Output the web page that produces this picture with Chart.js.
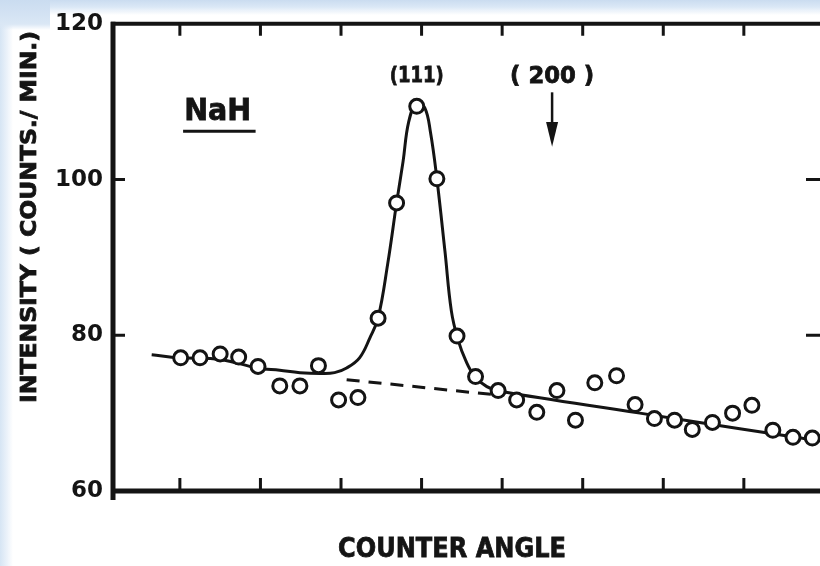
<!DOCTYPE html>
<html>
<head>
<meta charset="utf-8">
<title>NaH counter angle scan</title>
<script src="https://cdn.jsdelivr.net/npm/chart.js@4.4.1/dist/chart.umd.min.js"></script>
<style>
  html, body { margin: 0; padding: 0; overflow: hidden; }
  body {
    width: 820px; height: 566px;
    background:
      linear-gradient(to bottom, #cadcf0 0px, #dbe8f6 7px, rgba(255,255,255,0) 15px),
      linear-gradient(to right, #d6e5f4 0px, #ebf2fa 7px, rgba(255,255,255,0) 13px),
      #ffffff;
  }
  #corner {
    position: absolute; left: 0; top: 0; width: 50px; height: 30px;
    background: linear-gradient(to bottom, #cadcf0, #dae7f5 80%, rgba(218,231,245,0));
  }
  #wrap { position: absolute; left: 0; top: 0; width: 824px; height: 566px; }
</style>
</head>
<body>
<div id="corner"></div>
<div id="wrap"><canvas id="chart" width="824" height="566"></canvas></div>
<script>
// measured points (open circles)
const angle = [1.01, 1.25, 1.50, 1.73, 1.97, 2.24, 2.49, 2.72, 2.97, 3.21, 3.46, 3.69, 3.94, 4.19, 4.44, 4.67, 4.95,
  5.18, 5.43, 5.68, 5.91, 6.15, 6.42, 6.65, 6.89, 7.14, 7.36, 7.61, 7.86, 8.10, 8.36, 8.61, 8.85];
const counts = [77.1, 77.1, 77.6, 77.2, 76.0, 73.5, 73.5, 76.1, 71.7, 72.0, 82.2, 97.0, 109.4, 100.1, 79.9, 74.7, 72.9,
  71.7, 70.1, 72.9, 69.1, 73.9, 74.8, 71.1, 69.3, 69.1, 67.9, 68.8, 70.0, 71.0, 67.8, 66.9, 66.8];

// hand drawn solid curve through the peak
const fitAngle = [0.65, 1.00, 1.50, 1.96, 2.24, 2.49, 2.74, 2.92, 3.07, 3.23, 3.36, 3.46, 3.58, 3.69, 3.77, 3.84, 3.94,
  4.04, 4.11, 4.19, 4.29, 4.37, 4.45, 4.55, 4.66, 4.81, 4.97, 6.71, 7.95, 8.97];
const fitCounts = [77.5, 77.1, 76.9, 75.8, 75.5, 75.2, 75.1, 75.2, 75.8, 77.1, 79.7, 82.2, 89.2, 97.0, 102.3, 107.4, 109.9,
  109.2, 106.1, 100.1, 90.8, 83.1, 79.5, 76.7, 74.7, 73.4, 72.8, 70.0, 68.0, 66.4];

// dashed background under the peak
const baseAngle = [3.07, 4.87];
const baseCounts = [74.3, 72.4];

// axis ticks
const xTicks = [1, 2, 3, 4, 5, 6, 7, 8];
const yTicks = [60, 80, 100, 120];

const toXY = (xs, ys) => xs.map((x, i) => ({ x: x, y: ys[i] }));

const FONT = '"DejaVu Sans", sans-serif';
const INK = '#141414';

// draw text squeezed/stretched to a given width
function fitText(ctx, str, cx, cy, size, width, rot) {
  ctx.save();
  ctx.font = 'bold ' + size + 'px ' + FONT;
  const w = ctx.measureText(str).width;
  ctx.translate(cx, cy);
  if (rot) ctx.rotate(rot);
  ctx.scale(width / w, 1);
  ctx.textAlign = 'center';
  ctx.textBaseline = 'middle';
  ctx.fillStyle = INK;
  ctx.strokeStyle = INK;
  ctx.lineWidth = 0.8;
  ctx.fillText(str, 0, 0);
  ctx.strokeText(str, 0, 0);
  ctx.restore();
}

const framePlugin = {
  id: 'frame',
  afterDatasetsDraw(chart) {
    const ctx = chart.ctx;
    const { left, right, top, bottom } = chart.chartArea;
    const xs = chart.scales.x, ys = chart.scales.y;
    ctx.save();
    ctx.strokeStyle = INK;
    ctx.lineCap = 'butt';

    // box
    ctx.lineWidth = 5;
    ctx.beginPath();
    ctx.moveTo(left, top - 2); ctx.lineTo(left, bottom + 9);
    ctx.moveTo(left - 2, bottom); ctx.lineTo(right, bottom);
    ctx.stroke();
    ctx.lineWidth = 4;
    ctx.beginPath();
    ctx.moveTo(left - 2, top); ctx.lineTo(right, top);
    ctx.moveTo(right, top); ctx.lineTo(right, bottom);
    ctx.stroke();

    // inward ticks
    ctx.lineWidth = 3;
    ctx.beginPath();
    xTicks.forEach(v => {
      const px = xs.getPixelForValue(v);
      ctx.moveTo(px, bottom); ctx.lineTo(px, bottom - 13);
      ctx.moveTo(px, top); ctx.lineTo(px, top + 12);
    });
    yTicks.slice(1, -1).forEach(v => {
      const py = ys.getPixelForValue(v);
      ctx.moveTo(left, py); ctx.lineTo(left + 12, py);
      ctx.moveTo(right, py); ctx.lineTo(right - 16, py);
    });
    ctx.stroke();

    // labels inside the plot
    const X = v => xs.getPixelForValue(v), Y = v => ys.getPixelForValue(v);
    fitText(ctx, 'NaH', X(1.47), Y(108.6), 30, 67);
    ctx.lineWidth = 3;
    ctx.beginPath();
    ctx.moveTo(X(1.04), Y(106.2)); ctx.lineTo(X(1.94), Y(106.2));
    ctx.stroke();

    fitText(ctx, '(111)', X(3.94), Y(113.2), 22, 54);
    fitText(ctx, '( 200 )', X(5.62), Y(113.2), 23, 84);

    // arrow pointing at (200)
    const ax = X(5.62);
    ctx.lineWidth = 2.5;
    ctx.beginPath();
    ctx.moveTo(ax, Y(111.2)); ctx.lineTo(ax, Y(106));
    ctx.stroke();
    ctx.fillStyle = INK;
    ctx.beginPath();
    ctx.moveTo(ax - 6, Y(107.4));
    ctx.lineTo(ax + 6, Y(107.4));
    ctx.lineTo(ax, Y(104.2));
    ctx.closePath();
    ctx.fill();

    ctx.restore();
  },
  afterDraw(chart) {
    const ctx = chart.ctx;
    // axis titles, drawn by hand so they sit like the original lettering
    fitText(ctx, 'INTENSITY ( COUNTS./ MIN.)', 30, 217, 22, 372, -Math.PI / 2);
    fitText(ctx, 'COUNTER ANGLE', 452, 550, 27, 228);
  }
};

new Chart(document.getElementById('chart'), {
  type: 'scatter',
  data: {
    datasets: [
      {
        label: 'NaH',
        data: toXY(angle, counts),
        showLine: false,
        pointStyle: 'circle',
        pointRadius: 7,
        pointBorderWidth: 3,
        pointBackgroundColor: '#ffffff',
        pointBorderColor: INK
      },
      {
        label: 'fit',
        data: toXY(fitAngle, fitCounts),
        showLine: true,
        pointRadius: 0,
        borderColor: INK,
        borderWidth: 3,
        tension: 0.4
      },
      {
        label: 'background',
        data: toXY(baseAngle, baseCounts),
        showLine: true,
        pointRadius: 0,
        borderColor: INK,
        borderWidth: 3,
        borderDash: [13, 9]
      }
    ]
  },
  options: {
    responsive: false,
    animation: false,
    layout: { autoPadding: false, padding: { top: 21, right: 2, left: 0, bottom: 0 } },
    plugins: {
      legend: { display: false },
      tooltip: { enabled: false }
    },
    scales: {
      x: {
        type: 'linear',
        min: 0.17,
        max: 8.97,
        grid: { display: false },
        border: { display: false },
        ticks: { display: false },
        afterBuildTicks: s => { s.ticks = xTicks.map(v => ({ value: v })); },
        afterFit: s => { s.height = 75; }
      },
      y: {
        min: 60,
        max: 120,
        grid: { display: false, drawTicks: false },
        border: { display: false },
        ticks: {
          stepSize: 20,
          padding: 10,
          color: INK,
          font: { family: FONT, weight: 'bold', size: 23 }
        },
        afterBuildTicks: s => { s.ticks = yTicks.map(v => ({ value: v })); },
        afterFit: s => { s.width = 113; }
      }
    }
  },
  plugins: [framePlugin]
});
</script>
</body>
</html>
